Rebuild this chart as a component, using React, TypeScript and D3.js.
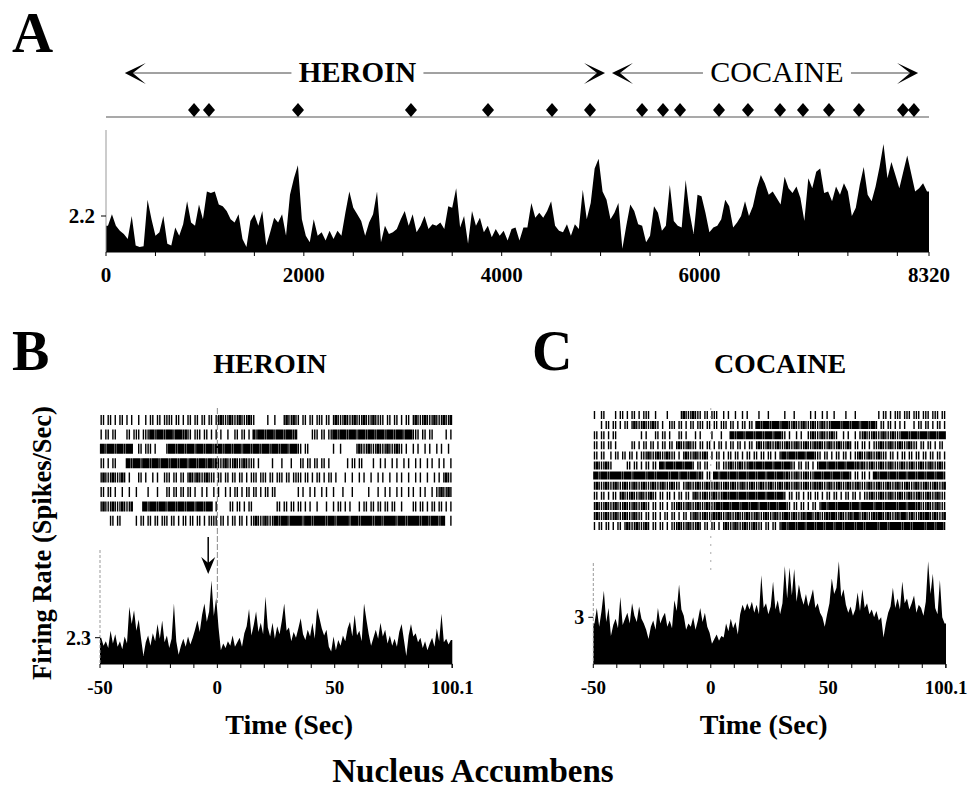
import React from 'react';
import * as d3 from 'd3';

const FONT = "'Liberation Serif','Times New Roman',Times,serif";

// ---------- Panel A : whole session ----------
const sessionTicks = [0, 2000, 4000, 6000, 8320];
const infusionTimes = [890, 1041, 1941, 3083, 3862, 4509, 4893, 5419, 5631, 5803, 6197, 6490, 6814, 7046, 7309, 7612, 8057, 8168];
const heroinSpan = [190, 5045];
const cocaineSpan = [5115, 8210];
const periodLabels = ['HEROIN', 'COCAINE'];
const periodCenters = [2542, 6783];
const binA = 40;
const rateA = [
  1.6, 2.3, 1.6, 1.3, 1.1, 0.8, 2.2, 0.4, 0.3, 0.35,
  3.2, 2.0, 1.0, 1.2, 2.2, 0.5, 0.4, 1.5, 1.0, 1.7,
  3.1, 1.8, 1.6, 2.9, 2.0, 3.7, 3.6, 3.7, 2.9, 2.8,
  2.5, 2.0, 1.8, 2.3, 0.8, 0.3, 1.9, 2.3, 1.6, 2.5,
  0.4, 1.2, 2.1, 1.8, 2.3, 1.0, 3.5, 4.5, 5.3, 2.0,
  1.0, 0.6, 2.0, 1.0, 1.2, 0.7, 1.3, 0.8, 1.3, 1.0,
  2.4, 3.7, 2.7, 2.3, 1.9, 1.0, 1.8, 2.3, 3.7, 0.6,
  1.6, 1.1, 1.2, 1.4, 2.0, 2.5, 1.6, 2.3, 1.2, 1.6,
  2.2, 1.4, 1.7, 1.6, 1.8, 1.4, 2.8, 2.7, 3.9, 1.5,
  2.2, 0.5, 2.5, 1.6, 2.1, 1.2, 1.6, 0.9, 1.4, 1.0,
  1.3, 0.7, 1.4, 1.5, 0.7, 1.5, 1.5, 3.0, 2.1, 2.4,
  2.1, 2.5, 3.1, 1.6, 1.3, 1.2, 1.7, 1.0, 1.7, 1.4,
  3.8, 2.0, 3.0, 5.1, 5.7, 3.7, 3.2, 2.0, 2.4, 3.0,
  0.2, 1.6, 2.9, 2.5, 1.7, 1.6, 0.6, 1.0, 2.8, 2.4,
  1.3, 1.6, 4.1, 1.9, 1.6, 1.5, 4.4, 2.4, 1.1, 3.5,
  3.4, 2.4, 1.2, 1.5, 1.6, 2.0, 3.2, 2.8, 1.5, 1.8,
  2.2, 3.1, 2.2, 2.8, 3.9, 4.7, 4.2, 3.5, 3.7, 3.3,
  2.9, 4.6, 3.9, 3.6, 4.0, 3.3, 1.9, 4.5, 3.9, 4.9,
  5.1, 3.6, 3.7, 3.1, 4.0, 3.5, 4.2, 3.7, 2.2, 2.7,
  4.1, 5.2, 3.5, 3.1, 4.0, 5.2, 6.6, 4.5, 5.5, 4.7,
  3.9, 4.9, 5.9, 4.8, 3.7, 3.9, 4.2, 3.7,
];

// ---------- Panels B, C : peri-event ----------
const timeTicks = [-50, 0, 50, 100.1];
const timeDomain = [-50, 100.1];
const heroinArrowTime = -3.9;
const rateB = [
  2.3, 1.6, 2.0, 1.4, 2.9, 1.8, 2.6, 1.5, 2.0, 1.3,
  2.4, 1.8, 5.0, 3.5, 4.7, 2.9, 3.9, 2.2, 0.7, 1.9,
  2.5, 1.6, 2.7, 2.0, 3.5, 2.2, 3.8, 1.9, 2.5, 1.4,
  2.2, 5.3, 2.0, 0.8, 1.6, 2.2, 1.5, 2.4, 1.7, 2.3,
  3.0, 3.8, 2.8, 4.3, 5.3, 3.7, 4.6, 7.3, 4.2, 5.8,
  3.2, 1.2, 1.8, 1.4, 2.0, 1.6, 2.5, 1.5, 1.9, 2.3,
  1.5, 2.7, 3.3, 4.8, 2.5, 3.4, 4.6, 2.8, 3.6, 2.6,
  5.9, 3.2, 2.4, 3.6, 2.2, 3.3, 2.6, 3.8, 5.3, 2.9,
  3.2, 2.0, 2.8, 2.3, 3.1, 4.0, 2.6, 2.1, 3.0, 2.4,
  3.6, 2.2, 4.9, 4.0, 3.1, 2.5, 3.0, 1.5, 1.1, 2.4,
  1.2, 2.1, 1.6, 2.5, 2.0, 3.1, 3.7, 2.4, 4.3, 2.5,
  2.9, 2.0, 5.3, 3.9, 2.6, 1.6, 2.3, 3.0, 2.2, 3.6,
  2.4, 3.0, 1.8, 2.5, 1.6, 2.2, 1.5, 2.8, 3.5, 2.1,
  0.7, 2.5, 3.5, 2.4, 2.7, 1.9, 2.3, 1.4, 2.0, 1.2,
  1.8, 2.3, 1.5, 3.1, 2.0, 4.4, 1.9, 2.2, 1.7, 2.1,
];
const rateC = [
  2.6, 3.6, 2.4, 3.4, 4.7, 2.7, 3.6, 1.8, 2.5, 2.9,
  2.3, 4.3, 2.5, 2.9, 3.3, 2.6, 3.9, 3.1, 2.7, 3.7,
  2.9, 2.6, 2.2, 1.6, 2.4, 2.8, 2.2, 3.6, 2.6, 3.0,
  3.3, 2.4, 2.8, 2.3, 4.1, 3.4, 5.1, 3.5, 3.1, 2.2,
  2.6, 2.4, 3.0, 2.2, 2.8, 3.6, 2.7, 3.3, 2.4, 2.0,
  1.3, 1.6, 1.9, 1.5, 1.8, 1.7, 2.6, 2.1, 2.9, 2.3,
  2.7, 1.9, 3.2, 3.8, 3.4, 3.9, 3.5, 4.0, 3.3, 3.8,
  3.2, 5.7, 3.6, 3.9, 3.2, 3.7, 5.3, 3.5, 4.1, 3.2,
  3.9, 6.3, 4.2, 6.2, 4.4, 6.1, 4.0, 5.1, 4.3, 3.8,
  4.5, 3.7, 4.2, 4.8, 3.6, 3.9, 3.3, 3.0, 2.4, 3.2,
  3.9, 5.5, 4.5, 4.9, 6.6, 4.3, 4.8, 3.8, 3.3, 3.7,
  3.1, 3.5, 4.6, 3.4, 4.8, 3.6, 3.9, 3.2, 3.5, 3.0,
  3.4, 2.8, 3.0, 1.7, 2.6, 3.3, 3.7, 4.9, 3.6, 4.2,
  3.5, 5.3, 3.9, 4.2, 3.5, 3.9, 4.4, 3.3, 3.8, 3.6,
  3.1, 4.0, 6.6, 4.5, 5.8, 3.6, 3.2, 5.4, 3.0, 2.6,
];

// spikes per 1-s bin (-50 … 100 s), one string per trial
const rasterB = [
  '1101101' + '0110' + '101' + '00' + '10010' + '110110111' + '10110101101101101101' + '1211121112111211' + '0000' + '010010' + '00' + '121121' + '101101101' + '110110' + '121112111211121112111' + '1011011010110' + '12111211121112112',
  '1011011' + '0000' + '1101110111' + '2212221222122212' + '11011' + '101101' + '010' + '100100' + '11011010' + '2122212221222122212' + '000000' + '111011011' + '22122212221222122212221222122212221' + '11011011' + '00000' + '101',
  '22122212221222' + '00' + '11011' + '1010' + '000' + '12221222122212221222122212221222122212221222122212221222' + '110110' + '000000000' + '100100' + '0000' + '1211121112111211121' + '1010010100101001010010',
  '1101011' + '0000' + '2212221222122212221222122212221222122' + '12111211121112111' + '10100' + '000' + '100010001000' + '11011011011010' + '000000' + '10110110' + '000' + '1001010010100101001010010100101001',
  '12111211121' + '010001' + '10100101001' + '110110110' + '12112111211' + '10110110110110101' + '11011101101110110111' + '10110101101011' + '01000100' + '100101001001010010010100100101001001010' + '1211',
  '11011010' + '010010010' + '000' + '100010' + '00' + '1101101101' + '1010010100101001010' + '110' + '101101101011011' + '000000000' + '10100101001010' + '0100010001' + '00000' + '01000100' + '10100101001010010100101' + '121121',
  '12111211121112' + '0000' + '221222122212221222122212221222' + '010' + '0000' + '1101101011' + '0000000000' + '1101101101101' + '0100100010010' + '110101' + '000' + '101101101101' + '10110010' + '000' + '11011010110110101',
  '0000' + '11011' + '000000' + '101101101101' + '110110101101101101011' + '11011010110110101' + '121112111' + '2212221222221222122222122212222212221222221222122222122212222212221222122' + '00' + '1',
];
const rasterC = [
  '10' + '0110' + '000' + '1011010' + '1101011' + '100100' + '00' + '10' + '0000' + '12111211' + '1011011' + '1001010' + '0100101' + '0000' + '100010' + '0000' + '010001' + '000000' + '10100101001' + '000' + '010001000' + '000000' + '10110101' + '110111011101110111011',
  '000' + '1011011010110' + '121112111211' + '01001' + '1101101011011' + '101101101' + '11011010110110' + '221222122212221' + '121112111211121112' + '222122212221222122' + '10110110101' + '0100010' + '110110101101',
  '11011010110' + '000000000' + '101' + '000' + '1101101' + '000' + '11010' + '00' + '101' + '0000' + '10001000' + '22122212221222122212221' + '10100101001' + '12111211121' + '10010100101' + '1211121112111211' + '12221222122212221222',
  '11011011' + '01000' + '000' + '11010' + '11011010110110' + '12111211' + '10110110' + '101101' + '011011010110' + '12111211121112111211121112' + '12111211121112' + '101101101011' + '1211121112111211' + '1011011010110',
  '110110' + '010110' + '1101101011' + '1211121112111' + '010' + '12111211121' + '0101101' + '0110110101101' + '10110110101' + '221222122212221' + '11011010110110101' + '12111211121' + '110110101101101' + '101101101101',
  '12111211' + '000000' + '11011010110110' + '22122212221222' + '1011011' + '000' + '11011' + '121112111' + '2212221222122212221' + '10110110101' + '22212221222122212' + '12111211121112111' + '12111211121112111211',
  '2212221222221222122222122212222212221222122212' + '10110' + '221222122212221222122212221222' + '12111211121112' + '22122212221222' + '1011011010' + '2212221222122212221222122212221',
  '121112111211121112111211121112111211' + '101' + '1211121112111211121' + '12111211121112111211121' + '12111211121112' + '121112111211121112111' + '1211121112111211121112111211121112',
  '11011010110' + '121112111211121' + '1011011010110110' + '1211121112111' + '22122212221222122212221222' + '101101101011011010110110101101101011' + '121112111211121112111211121112111',
  '12111211121112111211121' + '101101101011' + '12111211121112111' + '2212221222122212221222122212221' + '10110110101101' + '2212221222221222122222122212222212221222' + '1211121112111',
  '12111211121112111211' + '1011011010110110101101' + '1211121112' + '1211121112111211121112111211' + '1221121112122112111212211211121221121112122112111212211211121221121112',
  '1011011010110' + '1211121112' + '101101101011' + '1211121112' + '1011011010' + '12111211121112111' + '01101101' + '22122212221222122212221222122' + '22122212222212221222221222122222122212221',
];

function histArea(values: number[], start: number, bin: number, end: number, x: any, y: any) {
  const pts: [number, number][] = values.map((v, i) => [start + (i + 0.5) * bin, v]);
  pts.unshift([start, values[0]]);
  pts.push([end, values[values.length - 1]]);
  return d3.area<[number, number]>()
    .x(d => x(d[0]))
    .y0(y(0))
    .y1(d => y(d[1]))
    .curve(d3.curveLinear)(pts) as string;
}

function rasterPath(row: string, x: any, yTop: number, h: number) {
  let d = '';
  const s = row.padEnd(150, '0').slice(0, 150);
  for (let k = 0; k < 150; k++) {
    const n = +s[k];
    for (let j = 0; j < n; j++) {
      const xx = x(timeDomain[0] + k + (j + 0.5) / n);
      d += `M${xx.toFixed(2)},${yTop}V${yTop + h}`;
    }
  }
  return d;
}

function chevron(xTip: number, dir: number, y: number) {
  return `M${xTip},${y}L${xTip + dir * 21},${y - 10}L${xTip + dir * 8},${y}L${xTip + dir * 21},${y + 11}Z`;
}

function PeriPanel({ x0, x1, yTop, yTickVal, yTickPix, values, raster, rowTop, rowPitch, tickH, title, letter, letterX, titleX, zeroLineStyle, arrow, labelShift }: any) {
  const x = d3.scaleLinear().domain(timeDomain).range([x0, x1]);
  const base = 664;
  const y = d3.scaleLinear().domain([0, yTickVal]).range([base, yTickPix]);
  const minor = d3.range(-50, 101, 10);
  const cx = (x0 + x1) / 2;
  return (
    <g>
      <text x={letterX} y={370} fontFamily={FONT} fontWeight="bold" fontSize={56}>{letter}</text>
      <text x={titleX} y={373} fontFamily={FONT} fontWeight="bold" fontSize={28} textAnchor="middle">{title}</text>
      {raster.map((row: string, r: number) => (
        <path key={r} d={rasterPath(row, x, rowTop + r * rowPitch, tickH)} stroke="#000" strokeWidth={1.4} fill="none" />
      ))}
      <line x1={x(0)} x2={x(0)} y1={408} y2={zeroLineStyle.end} stroke={zeroLineStyle.color} strokeWidth={1} strokeDasharray={zeroLineStyle.dash} />
      {arrow !== null && (
        <g>
          <line x1={x(arrow)} x2={x(arrow)} y1={537} y2={566} stroke="#000" strokeWidth={1.5} />
          <path d={`M${x(arrow)},574L${x(arrow) - 7},557L${x(arrow)},563L${x(arrow) + 7},557Z`} fill="#000" />
        </g>
      )}
      <path d={histArea(values, -50, 1, 100.1, x, y)} fill="#000" />
      <line x1={x0} x2={x0} y1={yTop} y2={base} stroke="#999" strokeWidth={1} strokeDasharray="3,2" />
      <line x1={x0 - 5} x2={x0} y1={y(yTickVal)} y2={y(yTickVal)} stroke="#000" strokeWidth={1} />
      <text x={x0 - 9} y={y(yTickVal) + 7} fontFamily={FONT} fontWeight="bold" fontSize={20} textAnchor="end">{String(yTickVal)}</text>
      <line x1={x0} x2={x1} y1={base} y2={base} stroke="#000" strokeWidth={1} />
      {minor.concat([100.1]).map(t => (
        <line key={t} x1={x(t)} x2={x(t)} y1={base} y2={base + 4} stroke="#000" strokeWidth={1} />
      ))}
      {timeTicks.map(t => (
        <text key={t} x={x(t)} y={694} fontFamily={FONT} fontWeight="bold" fontSize={19} textAnchor="middle">{String(t)}</text>
      ))}
      <text x={cx + labelShift} y={734} fontFamily={FONT} fontWeight="bold" fontSize={28} textAnchor="middle">Time (Sec)</text>
    </g>
  );
}

export default function App() {
  const xA = d3.scaleLinear().domain([0, 8320]).range([106, 929]);
  const yA = d3.scaleLinear().domain([0, 2.2]).range([252, 216]);
  const arrowY = 73;
  const minorA = d3.range(0, 8321, 500).concat([8320]);
  const gapHalf = [66, 74];
  const spans = [heroinSpan, cocaineSpan];

  return (
    <svg width={969} height={803} style={{ position: 'absolute', left: 0, top: 0, background: '#fff' }}>
      <rect x={0} y={0} width={969} height={803} fill="#fff" />
      {/* Panel A */}
      <text x={12} y={52} fontFamily={FONT} fontWeight="bold" fontSize={57}>A</text>
      {spans.map((sp, i) => {
        const c = xA(periodCenters[i]);
        return (
          <g key={i}>
            <line x1={xA(sp[0]) + 6} x2={c - gapHalf[i]} y1={arrowY} y2={arrowY} stroke="#444" strokeWidth={1} />
            <line x1={c + gapHalf[i]} x2={xA(sp[1]) - 6} y1={arrowY} y2={arrowY} stroke="#444" strokeWidth={1} />
            <path d={chevron(xA(sp[0]), 1, arrowY)} fill="#000" />
            <path d={chevron(xA(sp[1]), -1, arrowY)} fill="#000" />
            <text x={c} y={82} fontFamily={FONT} fontWeight={i === 0 ? 'bold' : 'normal'} fontSize={i === 0 ? 29 : 30} textAnchor="middle">{periodLabels[i]}</text>
          </g>
        );
      })}
      <line x1={xA(0)} x2={xA(8320)} y1={117} y2={117} stroke="#555" strokeWidth={1.2} />
      {infusionTimes.map((t, i) => {
        const cx = xA(t);
        return <path key={i} d={`M${cx},${103}L${cx + 6},${110}L${cx},${117}L${cx - 6},${110}Z`} fill="#000" />;
      })}
      <path d={histArea(rateA, 0, binA, 8320, xA, yA)} fill="#000" />
      <line x1={xA(0)} x2={xA(0)} y1={130} y2={252} stroke="#999" strokeWidth={1} />
      <line x1={xA(0) - 5} x2={xA(0)} y1={yA(2.2)} y2={yA(2.2)} stroke="#000" strokeWidth={1} />
      <text x={95} y={yA(2.2) + 7} fontFamily={FONT} fontWeight="bold" fontSize={21} textAnchor="end">2.2</text>
      <line x1={xA(0)} x2={xA(8320)} y1={252} y2={252} stroke="#000" strokeWidth={1} />
      {minorA.map((t, i) => (
        <line key={i} x1={xA(t)} x2={xA(t)} y1={252} y2={256} stroke="#000" strokeWidth={1} />
      ))}
      {sessionTicks.map(t => (
        <text key={t} x={xA(t)} y={282} fontFamily={FONT} fontWeight="bold" fontSize={21} textAnchor="middle">{String(t)}</text>
      ))}

      {/* Panel B */}
      <PeriPanel x0={100} x1={452.3} yTop={550} yTickVal={2.3} yTickPix={637.7} values={rateB} raster={rasterB}
        rowTop={415} rowPitch={14.4} tickH={10} title="HEROIN" letter="B" letterX={12} titleX={270}
        zeroLineStyle={{ end: 603, color: '#888', dash: '6,2' }} arrow={heroinArrowTime} labelShift={13} />
      {/* Panel C */}
      <PeriPanel x0={593.3} x1={946} yTop={563} yTickVal={3} yTickPix={617.3} values={rateC} raster={rasterC}
        rowTop={411} rowPitch={10.1} tickH={8} title="COCAINE" letter="C" letterX={532} titleX={780}
        zeroLineStyle={{ end: 572, color: '#aaa', dash: '2,6' }} arrow={null} labelShift={-6} />

      <text transform="translate(51,543) rotate(-90)" fontFamily={FONT} fontWeight="bold" fontSize={26.5} textAnchor="middle">Firing Rate (Spikes/Sec)</text>
      <text x={473} y={782} fontFamily={FONT} fontWeight="bold" fontSize={33} textAnchor="middle">Nucleus Accumbens</text>
    </svg>
  );
}
